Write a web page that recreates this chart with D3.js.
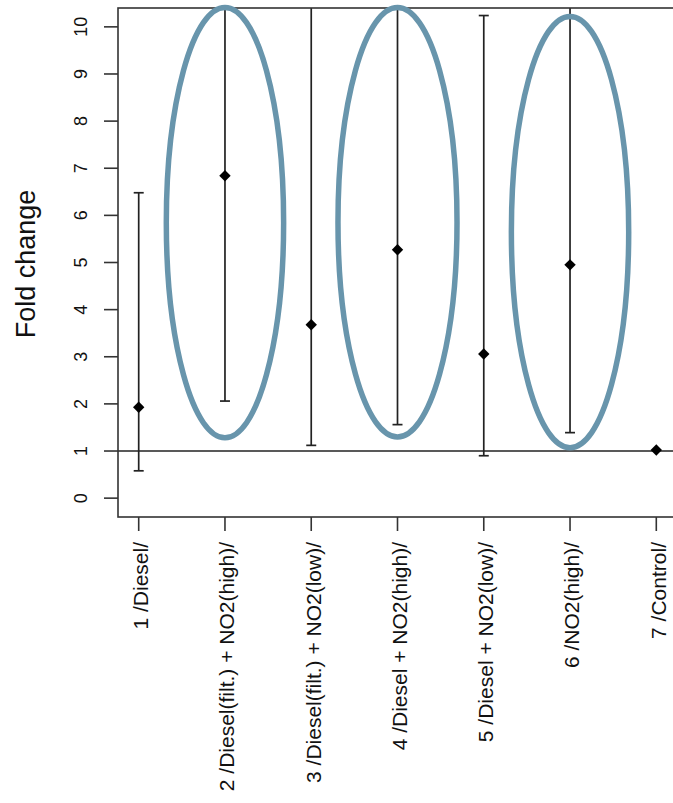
<!DOCTYPE html>
<html>
<head>
<meta charset="utf-8">
<script src="https://cdn.jsdelivr.net/npm/d3@7"></script>
<style>
  html, body { margin: 0; padding: 0; background: #fff; }
  svg { display: block; font-family: "Liberation Sans", Arial, sans-serif; }
</style>
</head>
<body>
<svg id="chart" width="673" height="803"></svg>
<script>
// ---- data ----
const categories = [
  "1 /Diesel/",
  "2 /Diesel(filt.) + NO2(high)/",
  "3 /Diesel(filt.) + NO2(low)/",
  "4 /Diesel + NO2(high)/",
  "5 /Diesel + NO2(low)/",
  "6 /NO2(high)/",
  "7 /Control/"
];
const foldChange = [1.93, 6.84, 3.68, 5.27, 3.06, 4.95, 1.02];
const lowerCI   = [0.58, 2.06, 1.12, 1.56, 0.90, 1.39, null];
const upperCI   = [6.48, 12.5, 11.8, 12.2, 10.24, 11.5, null]; // values above 10.4 run off the plot
const yTicks = [0, 1, 2, 3, 4, 5, 6, 7, 8, 9, 10];
const refLine = 1;
// highlighted groups (category index, top, bottom, half-width in category units)
const highlightCat    = [2, 4, 6];
const highlightTop    = [10.41, 10.41, 10.22];
const highlightBottom = [1.28, 1.30, 1.07];
const highlightHalfW  = [0.68, 0.69, 0.68];

(function () {
// ---- layout ----
const svg = d3.select("#chart");
const mLeft = 118, mRight = 677, mTop = 8, mBottom = 517;
const x = d3.scaleLinear().domain([0.76, 7.24]).range([mLeft, mRight]);
const y = d3.scaleLinear().domain([-0.4, 10.4]).range([mBottom, mTop]);
const ink = "#222";

svg.append("rect").attr("width", 673).attr("height", 803).attr("fill", "#fff");

svg.append("defs").append("clipPath").attr("id", "plotclip")
  .append("rect").attr("x", mLeft).attr("y", mTop).attr("width", mRight - mLeft).attr("height", mBottom - mTop);

const plot = svg.append("g").attr("clip-path", "url(#plotclip)");

// reference line
plot.append("line")
  .attr("x1", mLeft).attr("x2", mRight)
  .attr("y1", y(refLine)).attr("y2", y(refLine))
  .attr("stroke", ink).attr("stroke-width", 1.5);

// error bars
const data = categories.map((c, i) => ({ i: i + 1, c, v: foldChange[i], lo: lowerCI[i], hi: upperCI[i] }));
const bars = data.filter(d => d.lo != null);
plot.selectAll("line.whisker").data(bars).join("line")
  .attr("class", "whisker")
  .attr("x1", d => x(d.i)).attr("x2", d => x(d.i))
  .attr("y1", d => y(d.lo)).attr("y2", d => y(d.hi))
  .attr("stroke", "#222").attr("stroke-width", 1.7);
plot.selectAll("line.capLo").data(bars).join("line")
  .attr("class", "capLo")
  .attr("x1", d => x(d.i) - 5).attr("x2", d => x(d.i) + 5)
  .attr("y1", d => y(d.lo)).attr("y2", d => y(d.lo))
  .attr("stroke", "#222").attr("stroke-width", 1.7);
plot.selectAll("line.capHi").data(bars).join("line")
  .attr("class", "capHi")
  .attr("x1", d => x(d.i) - 5).attr("x2", d => x(d.i) + 5)
  .attr("y1", d => y(d.hi)).attr("y2", d => y(d.hi))
  .attr("stroke", "#222").attr("stroke-width", 1.7);

// diamond points
const diamond = { draw(ctx, size) { const r = Math.sqrt(size) / 2; ctx.moveTo(0, -r); ctx.lineTo(r, 0); ctx.lineTo(0, r); ctx.lineTo(-r, 0); ctx.closePath(); } };
plot.selectAll("path.pt").data(data).join("path")
  .attr("class", "pt")
  .attr("transform", d => `translate(${x(d.i)},${y(d.v)})`)
  .attr("d", d3.symbol().type(diamond).size(130))
  .attr("fill", "#000");

// box (right side is beyond the window)
svg.append("rect")
  .attr("x", mLeft).attr("y", mTop).attr("width", mRight - mLeft).attr("height", mBottom - mTop)
  .attr("fill", "none").attr("stroke", "#333").attr("stroke-width", 1.6);

// y axis ticks + labels
const yAxis = svg.append("g");
yAxis.selectAll("line").data(yTicks).join("line")
  .attr("x1", mLeft - 14).attr("x2", mLeft)
  .attr("y1", d => y(d)).attr("y2", d => y(d))
  .attr("stroke", "#333").attr("stroke-width", 1.6);
yAxis.selectAll("text").data(yTicks).join("text")
  .attr("transform", d => `translate(87,${y(d)}) rotate(-90)`)
  .attr("text-anchor", "middle")
  .attr("font-size", 18)
  .attr("fill", "#111")
  .text(d => d);

// x axis ticks + labels
const xAxis = svg.append("g");
xAxis.selectAll("line").data(data).join("line")
  .attr("x1", d => x(d.i)).attr("x2", d => x(d.i))
  .attr("y1", mBottom).attr("y2", mBottom + 14)
  .attr("stroke", "#333").attr("stroke-width", 1.6);
xAxis.selectAll("text").data(data).join("text")
  .attr("transform", d => `translate(${x(d.i)},542) rotate(-90)`)
  .attr("text-anchor", "end")
  .attr("dy", "0.45em")
  .attr("font-size", 21)
  .attr("fill", "#111")
  .text(d => d.c);

// y title
svg.append("text")
  .attr("transform", "translate(35,264) rotate(-90)")
  .attr("text-anchor", "middle")
  .attr("font-size", 27)
  .attr("fill", "#111")
  .text("Fold change");

// highlight ellipses
const hl = highlightCat.map((c, k) => ({ c, t: highlightTop[k], b: highlightBottom[k], w: highlightHalfW[k] }));
svg.append("g").selectAll("ellipse").data(hl).join("ellipse")
  .attr("cx", d => x(d.c))
  .attr("cy", d => (y(d.t) + y(d.b)) / 2)
  .attr("rx", d => x(d.c + d.w) - x(d.c))
  .attr("ry", d => (y(d.b) - y(d.t)) / 2)
  .attr("fill", "none")
  .attr("stroke", "#6895ac")
  .attr("stroke-width", 5.5);
})();
</script>
</body>
</html>
